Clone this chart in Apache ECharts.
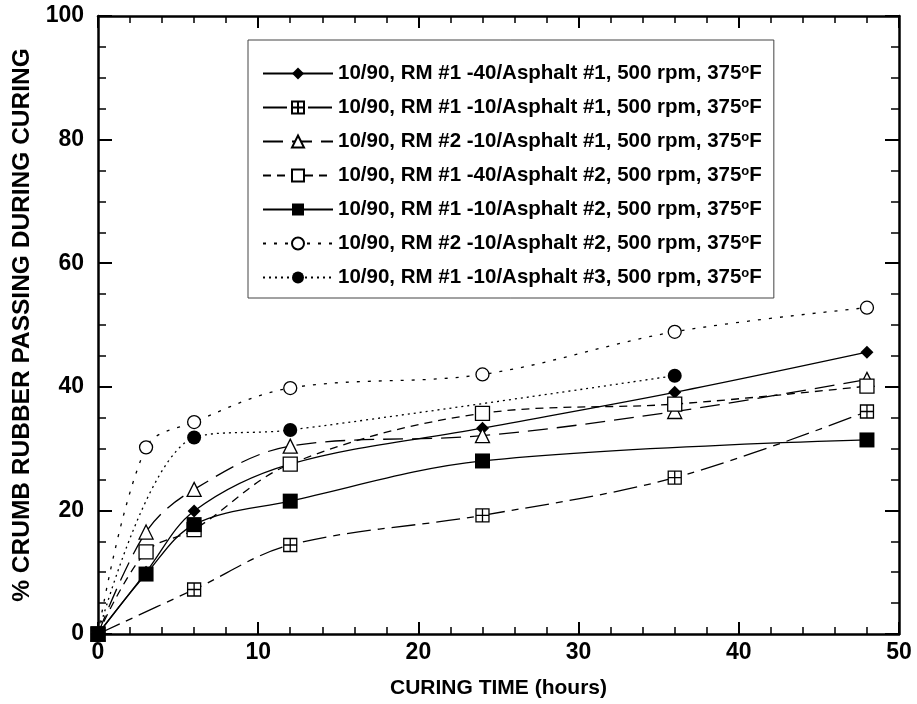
<!DOCTYPE html>
<html>
<head>
<meta charset="utf-8">
<script src="https://cdn.jsdelivr.net/npm/echarts@6/dist/echarts.min.js"></script>
<style>
html,body{margin:0;padding:0;background:#fff;}
#chart{width:917px;height:704px;}
</style>
</head>
<body>
<div id="chart"></div>
<script>
// Series names
const names = [
  '10/90, RM #1 -40/Asphalt #1, 500 rpm, 375°F',
  '10/90, RM #1 -10/Asphalt #1, 500 rpm, 375°F',
  '10/90, RM #2 -10/Asphalt #1, 500 rpm, 375°F',
  '10/90, RM #1 -40/Asphalt #2, 500 rpm, 375°F',
  '10/90, RM #1 -10/Asphalt #2, 500 rpm, 375°F',
  '10/90, RM #2 -10/Asphalt #2, 500 rpm, 375°F',
  '10/90, RM #1 -10/Asphalt #3, 500 rpm, 375°F'
];
// Curing times (hours) and % passing for each series
const t1 = [0, 3, 6, 12, 24, 36, 48];
const v1 = [0, 10.0, 19.9, 27.5, 33.3, 39.1, 45.6];
const t2 = [0, 6, 12, 24, 36, 48];
const v2 = [0, 7.2, 14.4, 19.2, 25.3, 36.0];
const t3 = [0, 3, 6, 12, 24, 36, 48];
const v3 = [0, 16.5, 23.4, 30.4, 32.1, 36.0, 41.2];
const t4 = [0, 3, 6, 12, 24, 36, 48];
const v4 = [0, 13.3, 16.9, 27.5, 35.7, 37.2, 40.1];
const t5 = [0, 3, 6, 12, 24, 48];
const v5 = [0, 9.7, 17.7, 21.5, 28.0, 31.4];
const t6 = [0, 3, 6, 12, 24, 36, 48];
const v6 = [0, 30.2, 34.3, 39.8, 42.0, 48.9, 52.8];
const t7 = [0, 6, 12, 36];
const v7 = [0, 31.8, 33.0, 41.8];

const xTicks = [0, 10, 20, 30, 40, 50];
const yTicks = [0, 20, 40, 60, 80, 100];

function pts(t, v){ return t.map((x,i)=>[x, v[i]]); }

const FONT = '"Liberation Sans", Arial, sans-serif';
const crossSquare = 'path://M0,0H10V10H0Z M5,0V10 M0,5H10';

const styles = [
  {symbol:'diamond', size:13, fill:'#000', dash:'solid'},
  {symbol:crossSquare, size:13, fill:'#fff', dash:[24,7,7,7]},
  {symbol:'triangle', size:14, fill:'#fff', dash:[20,9]},
  {symbol:'rect', size:14, fill:'#fff', dash:[8,6]},
  {symbol:'rect', size:15, fill:'#000', dash:'solid'},
  {symbol:'circle', size:13, fill:'#fff', dash:[3,8]},
  {symbol:'circle', size:14, fill:'#000', dash:[2,4]}
];
const datas = [pts(t1,v1), pts(t2,v2), pts(t3,v3), pts(t4,v4), pts(t5,v5), pts(t6,v6), pts(t7,v7)];

const series = names.map((n, i) => ({
  name: n,
  type: 'line',
  xAxisIndex: 0, yAxisIndex: 0,
  data: datas[i],
  smooth: 0.35,
  symbol: styles[i].symbol,
  symbolSize: styles[i].size,
  showAllSymbol: true,
  lineStyle: {color:'#000', width:1.3, type: styles[i].dash},
  itemStyle: {color: styles[i].fill, borderColor:'#000', borderWidth: styles[i].fill === '#fff' ? 1.3 : 0, opacity:1},
  emphasis: {disabled:true},
  animation: false,
  z: 3 + i
}));

const axisLabelStyle = {color:'#000', fontFamily: FONT, fontWeight:'bold', fontSize:23};

const chart = echarts.init(document.getElementById('chart'), null, {renderer:'canvas'});
chart.setOption({
  backgroundColor:'#fff',
  animation:false,
  grid:{left:98, right:18, top:16, bottom:70, containLabel:false},
  legend:{
    orient:'vertical',
    left:248, top:40,
    padding:[23, 12, 10, 14],
    borderColor:'#444', borderWidth:1,
    backgroundColor:'#fff',
    itemWidth:70, itemHeight:15, itemGap:13,
    textStyle:{color:'#000', fontFamily:FONT, fontWeight:'bold', fontSize:20.5,
      rich:{sup:{fontSize:13, fontFamily:FONT, fontWeight:'bold', color:'#000', verticalAlign:'top'}}},
    formatter: function(name){ return name.replace('°F', '{sup|o}F'); },
    data: names,
    selectedMode:false
  },
  xAxis:[
    {type:'value', min:0, max:50, interval:10, position:'bottom',
     name:'CURING TIME (hours)', nameLocation:'middle', nameGap:44,
     nameTextStyle:{color:'#000', fontFamily:FONT, fontWeight:'bold', fontSize:21},
     axisLine:{show:true, onZero:false, lineStyle:{color:'#000', width:2.5}},
     axisTick:{show:true, inside:true, length:12, lineStyle:{color:'#000', width:2}},
     minorTick:{show:true, splitNumber:5, length:7, lineStyle:{color:'#000', width:1.5}},
     axisLabel:Object.assign({margin:7, formatter:function(v){return xTicks.indexOf(v)>=0? String(v):'';}}, axisLabelStyle),
     splitLine:{show:false}},
    {type:'value', min:0, max:50, interval:10, position:'top',
     axisLine:{show:true, onZero:false, lineStyle:{color:'#000', width:2.5}},
     axisTick:{show:true, inside:true, length:12, lineStyle:{color:'#000', width:2}},
     minorTick:{show:true, splitNumber:5, length:7, lineStyle:{color:'#000', width:1.5}},
     axisLabel:{show:false}, splitLine:{show:false}}
  ],
  yAxis:[
    {type:'value', min:0, max:100, interval:20, position:'left',
     name:'% CRUMB RUBBER PASSING DURING CURING', nameLocation:'middle', nameGap:63, nameRotate:90,
     nameTextStyle:{color:'#000', fontFamily:FONT, fontWeight:'bold', fontSize:24.5},
     axisLine:{show:true, onZero:false, lineStyle:{color:'#000', width:2.5}},
     axisTick:{show:true, inside:true, length:14, lineStyle:{color:'#000', width:2}},
     minorTick:{show:true, splitNumber:4, length:8, lineStyle:{color:'#000', width:1.5}},
     axisLabel:Object.assign({margin:14, formatter:function(v){return yTicks.indexOf(v)>=0? String(v):'';}}, axisLabelStyle),
     splitLine:{show:false}},
    {type:'value', min:0, max:100, interval:20, position:'right',
     axisLine:{show:true, onZero:false, lineStyle:{color:'#000', width:2.5}},
     axisTick:{show:true, inside:true, length:14, lineStyle:{color:'#000', width:2}},
     minorTick:{show:true, splitNumber:4, length:8, lineStyle:{color:'#000', width:1.5}},
     axisLabel:{show:false}, splitLine:{show:false}}
  ],
  series: series
});
</script>
</body>
</html>
